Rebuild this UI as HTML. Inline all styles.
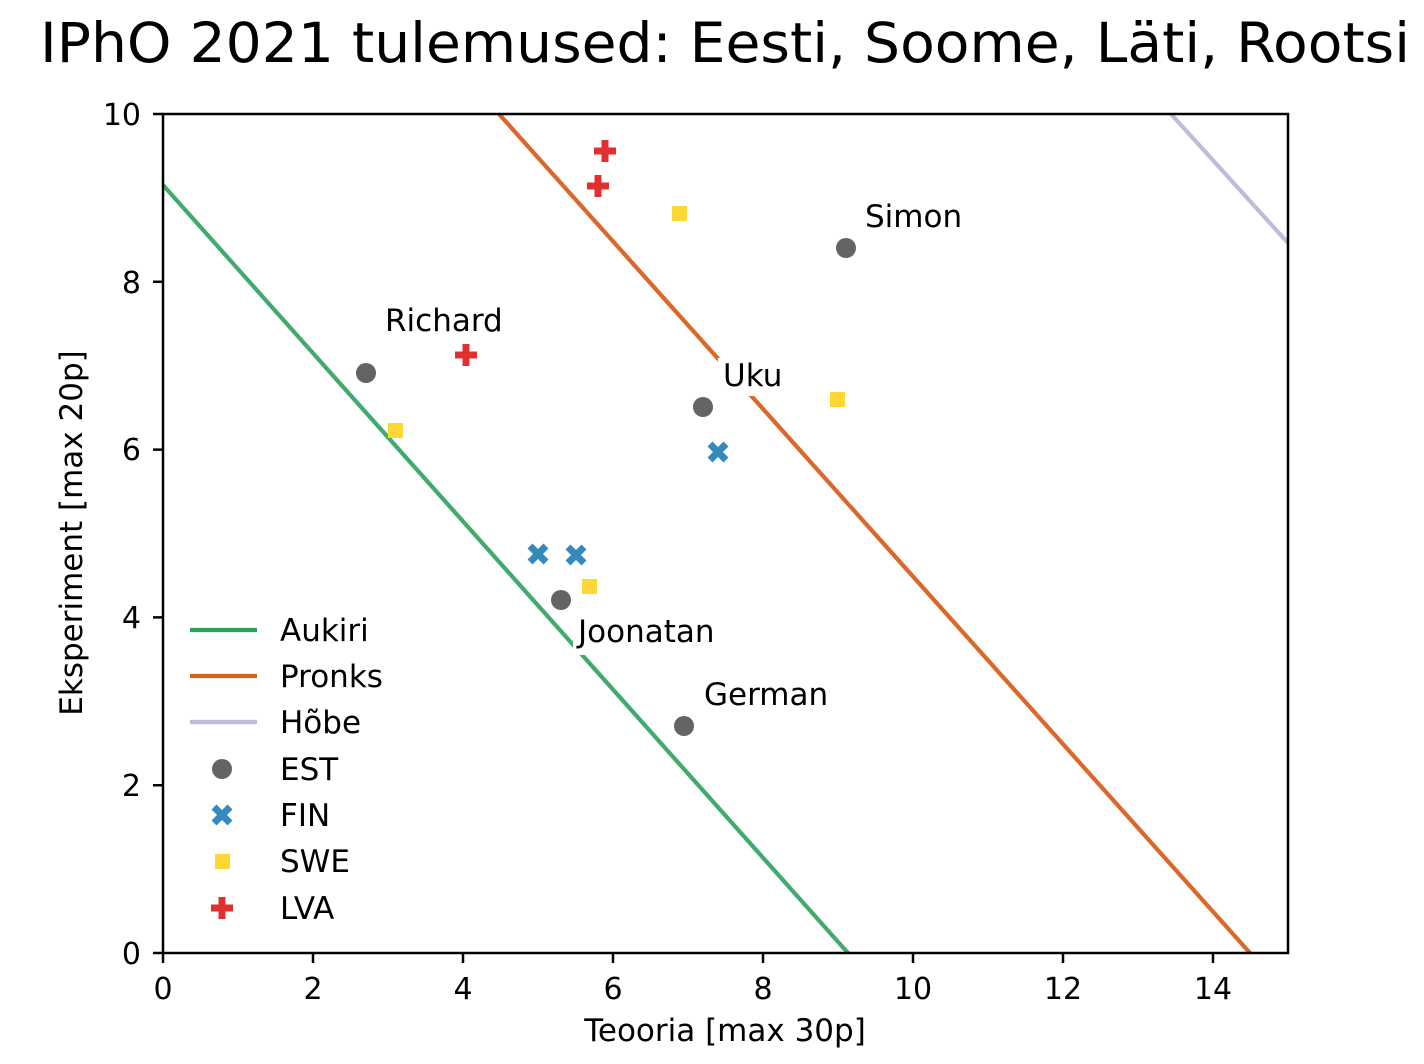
<!DOCTYPE html>
<html><head><meta charset="utf-8"><style>html,body{margin:0;padding:0;background:#fff}svg{display:block}text{font-family:"DejaVu Sans","Liberation Sans",sans-serif;fill:#000}</style></head>
<body>
<svg width="1424" height="1064" viewBox="0 0 1424 1064" xmlns="http://www.w3.org/2000/svg">
<rect width="1424" height="1064" fill="#fff"/>
<text x="40" y="62" font-size="55" textLength="1370" lengthAdjust="spacingAndGlyphs">IPhO 2021 tulemused: Eesti, Soome, Läti, Rootsi</text>
<defs><clipPath id="c"><rect x="163" y="114" width="1125" height="839"/></clipPath></defs>
<g clip-path="url(#c)" stroke-width="4.2" fill="none">
<line x1="163" y1="185" x2="848" y2="953" stroke="#2ca25f" stroke-opacity="0.9"/>
<line x1="499" y1="114" x2="1250" y2="953" stroke="#d95f1e" stroke-opacity="0.95"/>
<line x1="1171" y1="114" x2="1288" y2="243" stroke="#bcbddc"/>
</g>
<g font-size="31">
<rect x="718" y="358" width="72" height="38" fill="#fff"/>
<text x="723" y="386">Uku</text>
<rect x="573" y="613" width="150" height="42" fill="#fff"/>
<text x="578" y="642">Joonatan</text>
<text x="865" y="227">Simon</text>
<text x="385" y="331">Richard</text>
<text x="704" y="705">German</text>
</g>
<g fill="#646464">
<circle cx="366" cy="373" r="10"/><circle cx="703" cy="407" r="10"/><circle cx="846" cy="248" r="10"/><circle cx="561" cy="600" r="10"/><circle cx="684" cy="726" r="10"/>
</g>
<g stroke="#348abd" stroke-width="7">
<path d="M530 546l16 16M546 546l-16 16"/>
<path d="M568 547l16 16M584 547l-16 16"/>
<path d="M710 444l16 16M726 444l-16 16"/>
</g>
<g fill="#fdd835">
<rect x="672" y="206" width="15" height="15"/><rect x="830" y="392" width="15" height="15"/><rect x="388" y="423" width="15" height="15"/><rect x="582" y="579" width="15" height="15"/>
</g>
<g stroke="#e03030" stroke-width="7">
<path d="M594 151h22M605 140v22"/>
<path d="M587 186h22M598 175v22"/>
<path d="M455 355h22M466 344v22"/>
</g>
<rect x="163" y="114" width="1125" height="839" fill="none" stroke="#000" stroke-width="2.5"/>
<g stroke="#000" stroke-width="2.5">
<path d="M163 953v10M313 953v10M463 953v10M613 953v10M763 953v10M913 953v10M1063 953v10M1213 953v10"/>
<path d="M163 953h-10M163 785.2h-10M163 617.4h-10M163 449.6h-10M163 281.8h-10M163 114h-10"/>
</g>
<g font-size="30" text-anchor="middle">
<text x="163" y="999">0</text><text x="313" y="999">2</text><text x="463" y="999">4</text><text x="613" y="999">6</text><text x="763" y="999">8</text><text x="913" y="999">10</text><text x="1063" y="999">12</text><text x="1213" y="999">14</text>
</g>
<g font-size="30" text-anchor="end">
<text x="141" y="964">0</text><text x="141" y="796">2</text><text x="141" y="628">4</text><text x="141" y="460">6</text><text x="141" y="293">8</text><text x="141" y="125">10</text>
</g>
<text x="725" y="1041" font-size="31" text-anchor="middle">Teooria [max 30p]</text>
<text transform="translate(82 533) rotate(-90)" font-size="31" text-anchor="middle">Eksperiment [max 20p]</text>
<g stroke-width="4.2">
<line x1="190" y1="630" x2="257" y2="630" stroke="#2ca25f"/>
<line x1="190" y1="676" x2="257" y2="676" stroke="#d95f1e"/>
<line x1="190" y1="722" x2="257" y2="722" stroke="#bcbddc"/>
</g>
<circle cx="222" cy="769" r="10" fill="#646464"/>
<path d="M214 807l16 16M230 807l-16 16" stroke="#348abd" stroke-width="7"/>
<rect x="215" y="854" width="15" height="15" fill="#fdd835"/>
<path d="M211 908h22M222 897v22" stroke="#e03030" stroke-width="7"/>
<g font-size="31">
<text x="280" y="641">Aukiri</text><text x="280" y="687">Pronks</text><text x="280" y="733">Hõbe</text><text x="280" y="780">EST</text><text x="280" y="826">FIN</text><text x="280" y="872">SWE</text><text x="280" y="919">LVA</text>
</g>
</svg>
</body></html>
